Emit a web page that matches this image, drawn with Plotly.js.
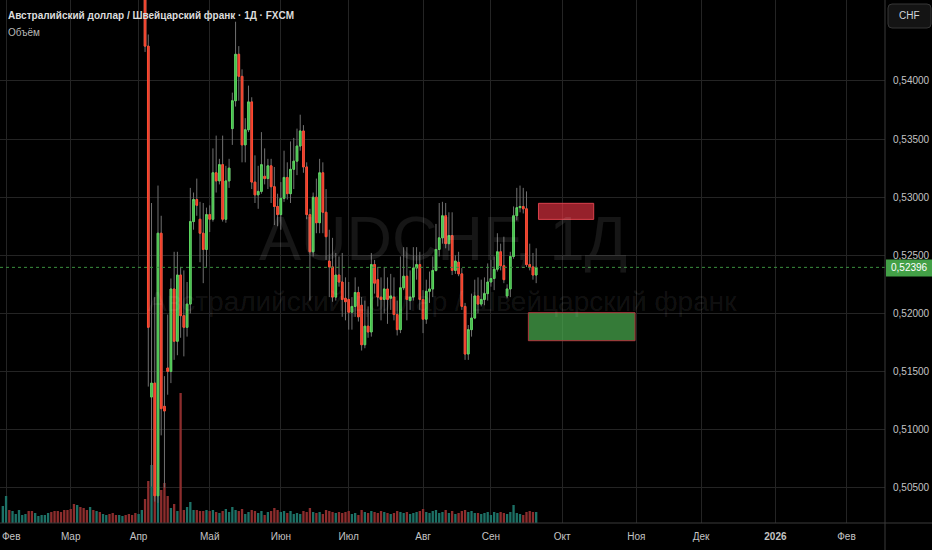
<!DOCTYPE html>
<html><head><meta charset="utf-8">
<script src="https://cdn.plot.ly/plotly-3.0.1.min.js"></script>
<style>html,body{margin:0;padding:0;background:#000;}#chart{width:932px;height:550px;}</style>
</head><body><div id="chart"></div>
<script>
// ---- DATA ----
const tickDates = ['2025-02-03','2025-03-03','2025-04-01','2025-05-01','2025-06-02','2025-07-01','2025-08-01','2025-09-01','2025-10-01','2025-11-03','2025-12-01','2026-01-01','2026-02-02'];
const tickLabels = ['Фев','Мар','Апр','Май','Июн','Июл','Авг','Сен','Окт','Ноя','Дек','<b>2026</b>','Фев'];
const priceTicks = [0.505,0.510,0.515,0.520,0.525,0.530,0.535,0.540];

// candles from 2025-04-03 (weekdays)
const opens = [0.5545,0.5430,0.5128,0.5140,0.5043,0.5269,0.5120,0.5153,0.5150,0.5221,
0.5176,0.5233,0.5198,0.5188,0.5208,0.5279,0.5298,0.5281,0.5269,0.5255,
0.5285,0.5281,0.5321,0.5314,0.5328,0.5281,0.5314,0.5359,0.5383,0.5423,
0.5404,0.5345,0.5358,0.5382,0.5313,0.5302,0.5305,0.5318,0.5316,0.5327,
0.5309,0.5292,0.5285,0.5299,0.5317,0.5303,0.5324,0.5331,0.5344,0.5357,
0.5326,0.5285,0.5253,0.5300,0.5278,0.5321,0.5287,0.5245,0.5240,0.5214,
0.5233,0.5227,0.5213,0.5212,0.5201,0.5206,0.5218,0.5207,0.5173,0.5189,
0.5184,0.5242,0.5229,0.5214,0.5212,0.5221,0.5213,0.5214,0.5199,0.5186,
0.5222,0.5232,0.5211,0.5214,0.5239,0.5242,0.5212,0.5195,0.5219,0.5221,
0.5237,0.5255,0.5265,0.5284,0.5260,0.5267,0.5237,0.5244,0.5234,0.5206,
0.5165,0.5186,0.5196,0.5215,0.5208,0.5212,0.5217,0.5227,0.5230,0.5238,
0.5253,0.5241,0.5215,0.5221,0.5249,0.5284,0.5291,0.5292,0.5290,0.5242,
0.5240,0.5233];
const highs = [0.5560,0.5440,0.5295,0.5214,0.5310,0.5284,0.5146,0.5199,0.5230,0.5253,
0.5253,0.5240,0.5237,0.5227,0.5308,0.5304,0.5316,0.5296,0.5295,0.5291,
0.5293,0.5342,0.5353,0.5333,0.5353,0.5327,0.5333,0.5390,0.5451,0.5430,
0.5410,0.5368,0.5396,0.5386,0.5336,0.5327,0.5356,0.5342,0.5333,0.5333,
0.5326,0.5303,0.5313,0.5340,0.5330,0.5348,0.5351,0.5359,0.5371,0.5362,
0.5330,0.5290,0.5304,0.5316,0.5333,0.5330,0.5307,0.5272,0.5265,0.5252,
0.5249,0.5252,0.5231,0.5227,0.5214,0.5231,0.5223,0.5214,0.5211,0.5206,
0.5252,0.5246,0.5240,0.5231,0.5240,0.5231,0.5234,0.5231,0.5211,0.5249,
0.5257,0.5257,0.5237,0.5257,0.5257,0.5253,0.5220,0.5229,0.5236,0.5249,
0.5277,0.5295,0.5296,0.5295,0.5287,0.5287,0.5250,0.5253,0.5239,0.5209,
0.5190,0.5217,0.5229,0.5231,0.5229,0.5231,0.5243,0.5246,0.5249,0.5269,
0.5260,0.5266,0.5225,0.5253,0.5292,0.5308,0.5310,0.5308,0.5305,0.5260,
0.5252,0.5256];
const lows = [0.5425,0.5137,0.5051,0.5038,0.5037,0.5095,0.5050,0.5130,0.5140,0.5160,
0.5164,0.5179,0.5163,0.5180,0.5200,0.5272,0.5284,0.5244,0.5226,0.5240,
0.5270,0.5279,0.5304,0.5311,0.5279,0.5278,0.5308,0.5345,0.5378,0.5383,
0.5330,0.5330,0.5356,0.5307,0.5295,0.5290,0.5303,0.5311,0.5307,0.5295,
0.5276,0.5275,0.5272,0.5296,0.5298,0.5295,0.5307,0.5319,0.5340,0.5321,
0.5281,0.5211,0.5249,0.5269,0.5269,0.5269,0.5246,0.5214,0.5210,0.5211,
0.5223,0.5197,0.5194,0.5186,0.5186,0.5197,0.5193,0.5168,0.5170,0.5179,
0.5180,0.5217,0.5206,0.5194,0.5200,0.5191,0.5203,0.5194,0.5181,0.5183,
0.5220,0.5194,0.5203,0.5211,0.5229,0.5203,0.5183,0.5191,0.5209,0.5214,
0.5236,0.5249,0.5260,0.5256,0.5254,0.5233,0.5234,0.5232,0.5203,0.5160,
0.5160,0.5180,0.5195,0.5200,0.5206,0.5207,0.5211,0.5223,0.5220,0.5236,
0.5237,0.5226,0.5213,0.5214,0.5247,0.5280,0.5287,0.5286,0.5240,0.5237,
0.5229,0.5226];
const closes = [0.5430,0.5188,0.5140,0.5043,0.5269,0.5118,0.5116,0.5150,0.5221,0.5176,
0.5233,0.5198,0.5188,0.5208,0.5279,0.5298,0.5293,0.5269,0.5255,0.5285,
0.5281,0.5321,0.5314,0.5328,0.5281,0.5314,0.5325,0.5383,0.5423,0.5404,
0.5345,0.5358,0.5382,0.5313,0.5302,0.5305,0.5328,0.5316,0.5327,0.5309,
0.5292,0.5285,0.5299,0.5317,0.5303,0.5324,0.5331,0.5344,0.5357,0.5326,
0.5285,0.5253,0.5300,0.5278,0.5321,0.5287,0.5266,0.5240,0.5214,0.5233,
0.5227,0.5212,0.5210,0.5201,0.5206,0.5218,0.5197,0.5173,0.5189,0.5184,
0.5242,0.5226,0.5214,0.5212,0.5221,0.5212,0.5215,0.5199,0.5186,0.5222,
0.5232,0.5212,0.5214,0.5239,0.5242,0.5212,0.5195,0.5219,0.5221,0.5237,
0.5255,0.5265,0.5284,0.5260,0.5267,0.5237,0.5245,0.5234,0.5206,0.5165,
0.5186,0.5196,0.5215,0.5208,0.5212,0.5217,0.5227,0.5230,0.5238,0.5253,
0.5241,0.5229,0.5221,0.5249,0.5284,0.5291,0.5292,0.5290,0.5242,0.5240,
0.5233,0.52396];
// volume (relative) for the candle days
const volumes = [24,42,58,31,36,33,40,27,15,19,12,130,13,16,21,13,13,12,12,13,
12,13,11,10,12,14,11,16,13,12,14,9,11,13,12,10,12,8,11,12,
15,13,11,12,10,12,9,10,9,12,11,15,11,10,11,9,13,12,11,10,
11,10,11,12,9,10,8,13,11,10,12,11,10,12,11,10,9,10,12,11,
10,11,9,10,11,12,14,11,10,12,13,10,11,13,10,12,9,10,12,13,
11,12,10,10,9,10,11,8,11,10,11,10,9,11,18,10,9,8,11,12,11,11];
// volume before the first visible candle (from 2025-01-31), candles above the view
const preVolumes = [17,27,13,12,9,13,8,9,12,12,10,7,8,8,10,11,12,12,11,13,13,
14,19,18,16,15,13,16,13,12,11,9,8,9,10,8,8,7,8,9,8,10,9,13];
const preVolUp = [1,1,0,1,1,1,1,1,0,0,1,1,1,1,1,0,0,0,0,0,0,
0,0,1,0,0,0,1,0,1,0,1,1,0,0,0,1,1,0,0,0,0,1,1];

// ---- helpers ----
function weekdays(start, n){
  const out=[]; const d=new Date(start+'T00:00:00Z');
  while(out.length<n){ const w=d.getUTCDay(); if(w!==0&&w!==6) out.push(d.toISOString().slice(0,10)); d.setUTCDate(d.getUTCDate()+1); }
  return out;
}
const candleDates = weekdays('2025-04-03', opens.length);
const preDates = weekdays('2025-01-31', preVolumes.length);
const bodyHigh = opens.map((o,i)=>Math.max(o,closes[i]));
const bodyLow = opens.map((o,i)=>Math.min(o,closes[i]));
const TEAL='#1d7166', DRED='#8c2d2d';
const volColors = preVolUp.map(u=>u?TEAL:DRED).concat(closes.map((c,i)=>c>=opens[i]?TEAL:DRED));

const FONT = '"Liberation Sans",Arial,sans-serif';
const W=885, H=523;
const px=x=>x/W, py=y=>1-y/H;
const DAY=86400000;
const last = closes[closes.length-1];

// the first month label sits at the very left edge: draw it as a left-anchored note so it stays whole
const axisText = tickLabels.map((t,i)=> i===0 ? '' : t);

const traces = [
 {type:'bar', x:preDates.concat(candleDates), y:preVolumes.concat(volumes), yaxis:'y',
  marker:{color:volColors, line:{width:0}}, width:0.72*DAY, hoverinfo:'skip'},
 {type:'candlestick', x:candleDates, open:opens, high:highs, low:lows, close:closes, yaxis:'y2',
  increasing:{line:{color:'#707070',width:1}, fillcolor:'#707070'},
  decreasing:{line:{color:'#707070',width:1}, fillcolor:'#707070'}, whiskerwidth:0, hoverinfo:'skip'},
 {type:'candlestick', x:candleDates, open:opens, high:bodyHigh, low:bodyLow, close:closes, yaxis:'y2',
  increasing:{line:{color:'#5cd65f',width:1}, fillcolor:'#3cb545'},
  decreasing:{line:{color:'#ff4a30',width:1}, fillcolor:'#e0392b'}, whiskerwidth:0, hoverinfo:'skip'}
];

function roundRect(x0,y0,x1,y1,r){
  const rx=r/W, ry=r/H;
  const X0=px(x0),X1=px(x1),Y0=py(y0),Y1=py(y1);
  return `M${X0+rx},${Y0} L${X1-rx},${Y0} Q${X1},${Y0} ${X1},${Y0-ry} L${X1},${Y1+ry} Q${X1},${Y1} ${X1-rx},${Y1} L${X0+rx},${Y1} Q${X0},${Y1} ${X0},${Y1+ry} L${X0},${Y0-ry} Q${X0},${Y0} ${X0+rx},${Y0} Z`;
}

const layout = {
  width:932, height:550, margin:{l:0,r:47,t:0,b:27},
  paper_bgcolor:'#000', plot_bgcolor:'#000', showlegend:false, separators:', ',
  font:{family:FONT, color:'#c4c4c4', size:10},
  boxgap:0.28,
  xaxis:{type:'date', range:['2025-01-30 03:00','2026-02-17 21:50'],
    rangebreaks:[{bounds:['sat','mon']}], rangeslider:{visible:false},
    tickmode:'array', tickvals:tickDates, ticktext:axisText, ticklabeloverflow:'allow',
    showgrid:true, gridcolor:'#242424', gridwidth:1, ticks:'', showline:false, zeroline:false,
    tickfont:{family:FONT, size:10, color:'#c4c4c4'}, ticklabelstandoff:6, fixedrange:true},
  yaxis:{range:[0,H], visible:false, showgrid:false, fixedrange:true},
  yaxis2:{overlaying:'y', side:'right', range:[0.50196,0.54697], tickmode:'array', tickvals:priceTicks,
    tickformat:'.5f', showgrid:true, gridcolor:'#242424', gridwidth:1, ticks:'', showline:false, zeroline:false,
    ticklabeloverflow:'allow',
    tickfont:{family:FONT, size:10, color:'#c4c4c4'}, ticklabelstandoff:7, fixedrange:true},
  shapes:[
    {type:'line', xref:'paper', yref:'y2', x0:0, x1:1, y0:last, y1:last, line:{color:'#3a8f3e', width:1, dash:'dot'}},
    {type:'rect', xref:'x', yref:'y2', x0:'2025-09-19 17:00', x1:'2025-10-14 19:00', y0:0.52809, y1:0.52947,
      fillcolor:'rgba(242,54,69,0.62)', line:{color:'#d8404c', width:1}, layer:'above'},
    {type:'rect', xref:'x', yref:'y2', x0:'2025-09-16 14:00', x1:'2025-10-31 14:00', y0:0.51765, y1:0.52006,
      fillcolor:'rgba(76,175,80,0.70)', line:{color:'#b0353d', width:1}, layer:'above'},
    {type:'line', xref:'paper', yref:'paper', x0:0, x1:932/W, y0:0, y1:0, line:{color:'#3a3a3a', width:1}},
    {type:'line', xref:'paper', yref:'paper', x0:1, x1:1, y0:-27/H, y1:1, line:{color:'#3a3a3a', width:1}},
    {type:'path', xref:'paper', yref:'paper', path:roundRect(888,4,931,28,4), fillcolor:'#141414', line:{color:'#363636', width:1}},
    {type:'rect', xref:'paper', yref:'paper', x0:px(886), x1:px(932), y0:py(276.5), y1:py(259.5), fillcolor:'#43a047', line:{width:0}}
  ],
  annotations:[
    {xref:'paper', yref:'paper', x:0.5, y:py(238), text:'AUDCHF, 1Д', showarrow:false, xanchor:'center', yanchor:'middle',
      font:{family:'"Liberation Sans",Roboto,sans-serif', size:63, color:'rgba(255,255,255,0.085)'}},
    {xref:'paper', yref:'paper', x:0.5, y:py(301), text:'Австралийский доллар / Швейцарский франк', showarrow:false, xanchor:'center', yanchor:'middle',
      font:{family:'"Liberation Sans",Roboto,sans-serif', size:28, color:'rgba(255,255,255,0.085)'}},
    {xref:'paper', yref:'paper', x:px(6), y:py(16), text:'Австралийский доллар / Швейцарский франк · 1Д · FXCM', showarrow:false,
      xanchor:'left', yanchor:'middle', font:{family:FONT, size:10, color:'#dcdcdc', weight:700}},
    {xref:'paper', yref:'paper', x:px(6), y:py(32.5), text:'Объём', showarrow:false,
      xanchor:'left', yanchor:'middle', font:{family:FONT, size:10, color:'#b8b8b8'}},
    {xref:'paper', yref:'paper', x:px(909.5), y:py(16), text:'CHF', showarrow:false,
      xanchor:'center', yanchor:'middle', font:{family:FONT, size:10, color:'#d1d4dc'}},
    {xref:'paper', yref:'y2', x:px(909), y:last, text:last.toFixed(5).replace('.',','), showarrow:false,
      xanchor:'center', yanchor:'middle', font:{family:FONT, size:10, color:'#ffffff'}},
    {xref:'paper', yref:'paper', x:0, y:py(536), text:tickLabels[0], showarrow:false, xanchor:'left', yanchor:'middle',
      xshift:0, font:{family:FONT, size:10, color:'#c4c4c4'}}
  ]
};

Plotly.newPlot('chart', traces, layout, {staticPlot:true, displayModeBar:false});
</script>
</body></html>
